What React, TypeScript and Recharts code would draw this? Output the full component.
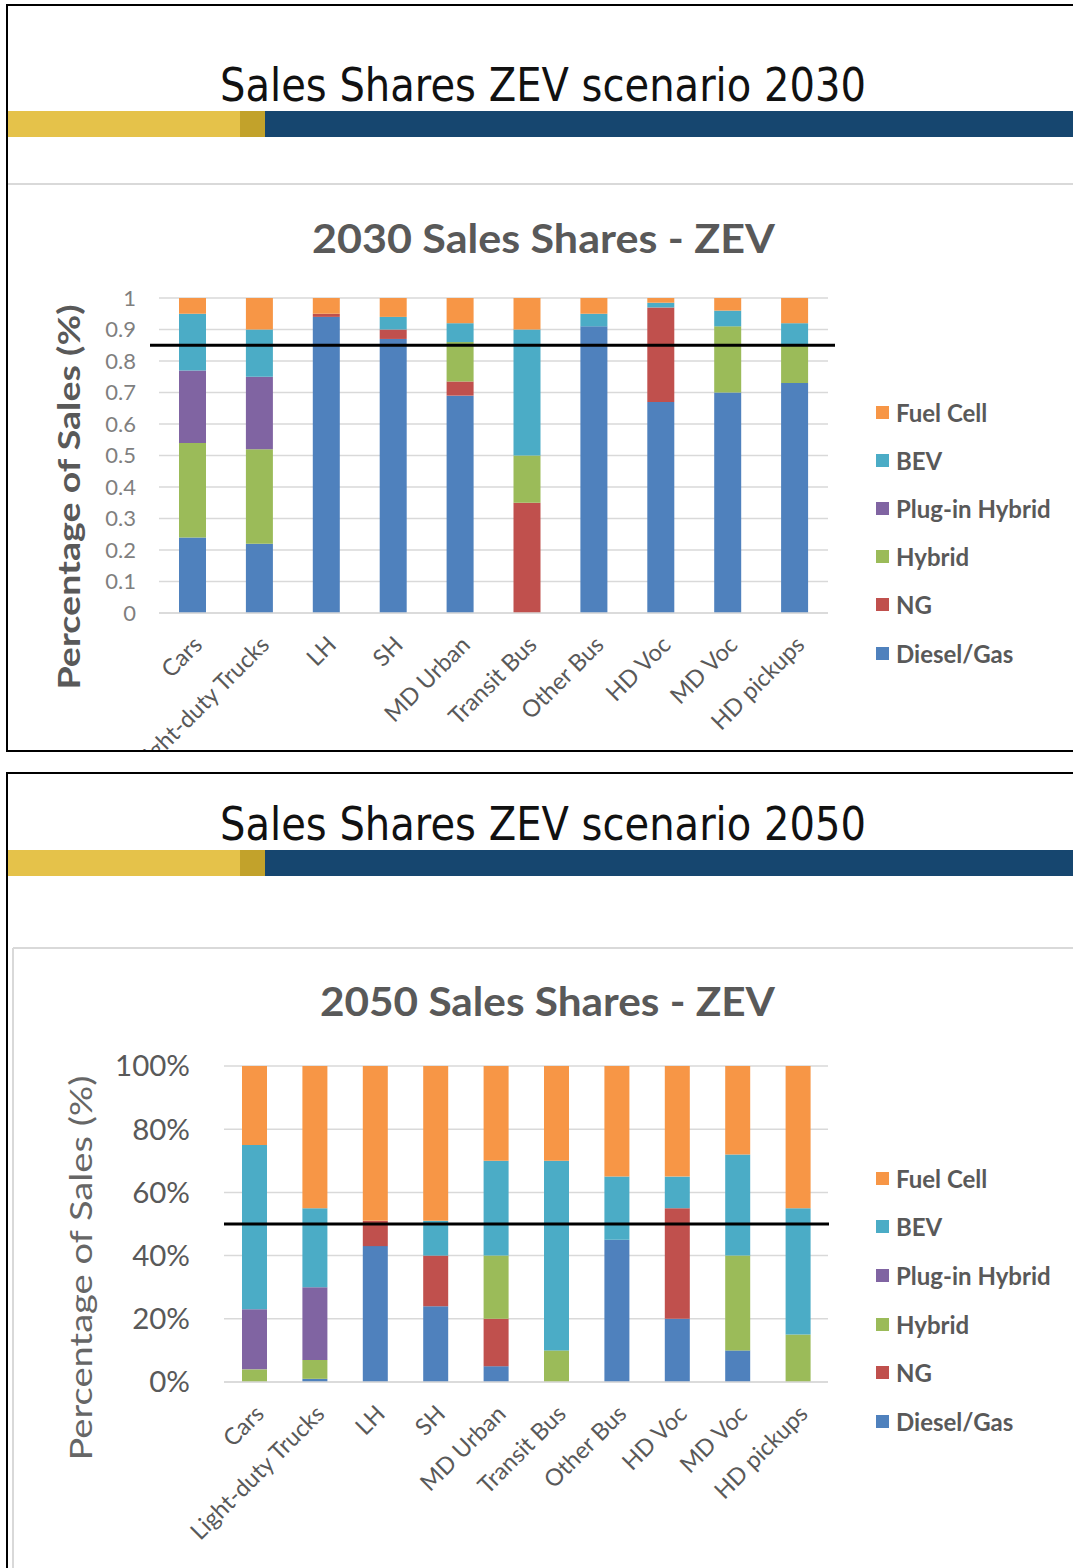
import React from 'react';
import { BarChart, Bar, XAxis, YAxis, CartesianGrid, ReferenceLine, Legend } from 'recharts';

const categories = ['Cars', 'Light-duty Trucks', 'LH', 'SH', 'MD Urban', 'Transit Bus', 'Other Bus', 'HD Voc', 'MD Voc', 'HD pickups'];
const seriesNames = ['Diesel/Gas', 'NG', 'Hybrid', 'Plug-in Hybrid', 'BEV', 'Fuel Cell'];
const seriesColors = ['#4F81BD', '#C0504D', '#9BBB59', '#8064A2', '#4BACC6', '#F79646'];

// 2030 ZEV scenario shares
const diesel2030 = [0.24, 0.22, 0.94, 0.87, 0.69, 0, 0.91, 0.67, 0.70, 0.73];
const ng2030 = [0, 0, 0.01, 0.03, 0.045, 0.35, 0, 0.30, 0, 0];
const hybrid2030 = [0.30, 0.30, 0, 0, 0.125, 0.15, 0, 0, 0.21, 0.12];
const phev2030 = [0.23, 0.23, 0, 0, 0, 0, 0, 0, 0, 0];
const bev2030 = [0.18, 0.15, 0, 0.04, 0.06, 0.40, 0.04, 0.015, 0.05, 0.07];
const fuelCell2030 = [0.05, 0.10, 0.05, 0.06, 0.08, 0.10, 0.05, 0.015, 0.04, 0.08];

// 2050 ZEV scenario shares
const diesel2050 = [0, 0.01, 0.43, 0.24, 0.05, 0, 0.45, 0.20, 0.10, 0];
const ng2050 = [0, 0, 0.08, 0.16, 0.15, 0, 0, 0.35, 0, 0];
const hybrid2050 = [0.04, 0.06, 0, 0, 0.20, 0.10, 0, 0, 0.30, 0.15];
const phev2050 = [0.19, 0.23, 0, 0, 0, 0, 0, 0, 0, 0];
const bev2050 = [0.52, 0.25, 0, 0.11, 0.30, 0.60, 0.20, 0.10, 0.32, 0.40];
const fuelCell2050 = [0.25, 0.45, 0.49, 0.49, 0.30, 0.30, 0.35, 0.35, 0.28, 0.45];

const ticks2030 = [0, 0.1, 0.2, 0.3, 0.4, 0.5, 0.6, 0.7, 0.8, 0.9, 1];
const tickLabels2030 = ['0', '0.1', '0.2', '0.3', '0.4', '0.5', '0.6', '0.7', '0.8', '0.9', '1'];
const ticks2050 = [0, 0.2, 0.4, 0.6, 0.8, 1];
const tickLabels2050 = ['0%', '20%', '40%', '60%', '80%', '100%'];

const threshold2030 = 0.85;
const threshold2050 = 0.5;

function buildRows(cols: number[][]) {
  return categories.map((c, i) => {
    const row: any = { category: c };
    seriesNames.forEach((s, j) => {
      row[s] = cols[j][i];
    });
    return row;
  });
}

const data2030 = buildRows([diesel2030, ng2030, hybrid2030, phev2030, bev2030, fuelCell2030]);
const data2050 = buildRows([diesel2050, ng2050, hybrid2050, phev2050, bev2050, fuelCell2050]);

const GRAY = '#595959';
const FONT = 'Lato, "Open Sans", "DejaVu Sans", sans-serif';

const makeXTick = (dx: number, dy: number, fs: number) => (props: any) => {
  const { x, y, payload } = props;
  return (
    <g transform={`translate(${x + dx},${y + dy})`}>
      <text transform="rotate(-45)" textAnchor="end" dominantBaseline="central" fill={GRAY} fontSize={fs} fontFamily={FONT}>
        {payload.value}
      </text>
    </g>
  );
};

const makeYLabel = (cx: number, offset: number, fs: number, weight: number, len: number, color: string) => (props: any) => {
  const vb = props.viewBox || { x: 0, y: 0, width: 0, height: 0 };
  const cy = vb.y + vb.height / 2 + offset;
  return (
    <text
      x={cx}
      y={cy}
      transform={`rotate(-90, ${cx}, ${cy})`}
      textAnchor="middle"
      dominantBaseline="central"
      fontSize={fs}
      fontWeight={weight}
      fill={color}
      fontFamily={FONT}
      textLength={len}
      lengthAdjust="spacingAndGlyphs"
    >
      Percentage of Sales (%)
    </text>
  );
};

const makeRefShape = (extL: number, extR: number) => (props: any) => {
  const { x1, y1, x2, y2 } = props;
  if (x1 == null) return null;
  return <line x1={x1 - extL} y1={y1} x2={x2 + extR} y2={y2} stroke="#000" strokeWidth={3} />;
};

const makeLegend = (rowH: number, fs: number) => () => (
  <div style={{ fontFamily: FONT }}>
    {seriesNames
      .map((n, i) => ({ n, c: seriesColors[i] }))
      .reverse()
      .map((it) => (
        <div key={it.n} style={{ height: rowH, display: 'flex', alignItems: 'center' }}>
          <span style={{ display: 'inline-block', width: 13, height: 13, background: it.c, marginRight: 7, flexShrink: 0 }} />
          <span style={{ fontSize: fs, fontWeight: 700, color: GRAY, whiteSpace: 'nowrap' }}>{it.n}</span>
        </div>
      ))}
  </div>
);

function Header({ title, textY, barY }: { title: string; textY: number; barY: number }) {
  return (
    <g>
      <text x={543} y={textY} textAnchor="middle" fontSize={46} fontFamily='"DejaVu Sans", sans-serif' fill="#111" textLength={646} lengthAdjust="spacingAndGlyphs">
        {title}
      </text>
      <rect x={8} y={barY} width={232} height={26} fill="#E5C24A" />
      <rect x={240} y={barY} width={25} height={26} fill="#C2A22B" />
      <rect x={265} y={barY} width={808} height={26} fill="#16466F" />
    </g>
  );
}

export default function App() {
  return (
    <div style={{ position: 'absolute', left: 0, top: 0, width: 1073, height: 1568, background: '#fff', fontFamily: FONT, overflow: 'hidden' }}>
      {/* Top panel */}
      <div style={{ position: 'absolute', left: 0, top: 0, width: 1073, height: 752, overflow: 'hidden' }}>
        <div style={{ position: 'absolute', left: 0, top: 280 }}>
          <BarChart width={1073} height={472} data={data2030} margin={{ top: 18, right: 245, bottom: 0, left: 0 }} barSize={27}>
            <CartesianGrid vertical={false} stroke="#d9d9d9" strokeWidth={1.5} />
            <XAxis dataKey="category" interval={0} height={139} tickLine={false} axisLine={{ stroke: '#d9d9d9', strokeWidth: 1.5 }} tick={makeXTick(5, 19, 23.5)} />
            <YAxis
              width={159}
              domain={[0, 1]}
              ticks={ticks2030}
              tickFormatter={(v: number) => tickLabels2030[ticks2030.indexOf(v)] ?? String(v)}
              axisLine={false}
              tickLine={false}
              tickSize={0}
              tickMargin={23}
              tick={{ fill: '#7f7f7f', fontSize: 22, fontFamily: FONT }}
              label={{ content: makeYLabel(68, 41.5, 30, 700, 385, GRAY) } as any}
            />
            {seriesNames.map((s, i) => (
              <Bar key={s} dataKey={s} stackId="a" fill={seriesColors[i]} isAnimationActive={false} />
            ))}
            <ReferenceLine y={threshold2030} shape={makeRefShape(9, 7)} />
            <Legend
              layout="vertical"
              align="center"
              verticalAlign="middle"
              content={makeLegend(48.2, 24)}
              wrapperStyle={{ position: 'absolute', left: 876, top: 108, width: 197 }}
            />
          </BarChart>
        </div>
        <svg width={1073} height={752} style={{ position: 'absolute', left: 0, top: 0, pointerEvents: 'none' }}>
          <Header title="Sales Shares ZEV scenario 2030" textY={101} barY={111} />
          <line x1={8} y1={184} x2={1073} y2={184} stroke="#d9d9d9" strokeWidth={2} />
          <text x={543.5} y={253} textAnchor="middle" fontSize={40} fontWeight={700} fill={GRAY} fontFamily={FONT} textLength={463} lengthAdjust="spacingAndGlyphs">
            2030 Sales Shares - ZEV
          </text>
          <line x1={7} y1={5} x2={1073} y2={5} stroke="#000" strokeWidth={2} />
          <line x1={7} y1={4} x2={7} y2={752} stroke="#000" strokeWidth={2} />
          <line x1={6} y1={751} x2={1073} y2={751} stroke="#000" strokeWidth={2} />
        </svg>
      </div>

      {/* Bottom panel */}
      <div style={{ position: 'absolute', left: 0, top: 1030 }}>
        <BarChart width={1073} height={538} data={data2050} margin={{ top: 36, right: 245, bottom: 0, left: 0 }} barSize={25}>
          <CartesianGrid vertical={false} stroke="#d9d9d9" strokeWidth={1.5} />
          <XAxis dataKey="category" interval={0} height={186} tickLine={false} axisLine={{ stroke: '#d9d9d9', strokeWidth: 1.5 }} tick={makeXTick(5, 19, 23.5)} />
          <YAxis
            width={224}
            domain={[0, 1]}
            ticks={ticks2050}
            tickFormatter={(v: number) => tickLabels2050[ticks2050.indexOf(v)] ?? String(v)}
            axisLine={false}
            tickLine={false}
            tickSize={0}
            tickMargin={34}
            tick={{ fill: GRAY, fontSize: 29.5, fontFamily: FONT }}
            label={{ content: makeYLabel(80, 44, 31, 400, 385, '#666') } as any}
          />
          {seriesNames.map((s, i) => (
            <Bar key={s} dataKey={s} stackId="a" fill={seriesColors[i]} isAnimationActive={false} />
          ))}
          <ReferenceLine y={threshold2050} shape={makeRefShape(0, 1)} />
          <Legend
            layout="vertical"
            align="center"
            verticalAlign="middle"
            content={makeLegend(48.6, 24)}
            wrapperStyle={{ position: 'absolute', left: 876, top: 124, width: 197 }}
          />
        </BarChart>
      </div>
      <svg width={1073} height={1568} style={{ position: 'absolute', left: 0, top: 0, pointerEvents: 'none' }}>
        <Header title="Sales Shares ZEV scenario 2050" textY={840} barY={850} />
        <line x1={13} y1={948} x2={1073} y2={948} stroke="#d9d9d9" strokeWidth={2} />
        <line x1={13} y1={948} x2={13} y2={1568} stroke="#d9d9d9" strokeWidth={2} />
        <text x={547.5} y={1016} textAnchor="middle" fontSize={40} fontWeight={700} fill={GRAY} fontFamily={FONT} textLength={455} lengthAdjust="spacingAndGlyphs">
          2050 Sales Shares - ZEV
        </text>
        <line x1={7} y1={773} x2={1073} y2={773} stroke="#000" strokeWidth={2} />
        <line x1={7} y1={772} x2={7} y2={1568} stroke="#000" strokeWidth={2} />
      </svg>
    </div>
  );
}
